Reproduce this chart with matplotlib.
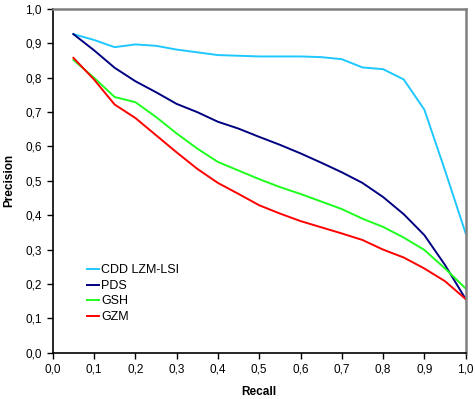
import matplotlib
matplotlib.use("Agg")
import matplotlib.pyplot as plt
import numpy as np

plt.rcParams['font.family'] = ['Liberation Sans', 'DejaVu Sans']

recall = [0.05, 0.10, 0.15, 0.20, 0.25, 0.30, 0.35, 0.40, 0.45, 0.50,
          0.55, 0.60, 0.65, 0.70, 0.75, 0.80, 0.85, 0.90, 0.95, 1.00]

cdd = [0.927, 0.910, 0.889, 0.897, 0.893, 0.882, 0.874, 0.866, 0.864, 0.862,
       0.862, 0.862, 0.860, 0.854, 0.830, 0.825, 0.795, 0.707, 0.530, 0.347]
pds = [0.927, 0.880, 0.829, 0.790, 0.758, 0.724, 0.700, 0.672, 0.652, 0.628,
       0.605, 0.580, 0.553, 0.525, 0.494, 0.453, 0.403, 0.342, 0.255, 0.156]
gsh = [0.852, 0.800, 0.744, 0.729, 0.686, 0.638, 0.594, 0.555, 0.530, 0.505,
       0.482, 0.462, 0.440, 0.418, 0.390, 0.366, 0.335, 0.299, 0.245, 0.187]
gzm = [0.858, 0.795, 0.722, 0.683, 0.633, 0.583, 0.535, 0.494, 0.462, 0.429,
       0.405, 0.383, 0.365, 0.347, 0.328, 0.300, 0.277, 0.245, 0.208, 0.156]

labels = ['CDD LZM-LSI', 'PDS', 'GSH', 'GZM']
colors = ['#1ec8ff', '#000080', '#1eff1e', '#ff0000']

fig = plt.figure(figsize=(4.75, 3.99), dpi=100)
ax = fig.add_axes([0.111, 0.116, 0.8694, 0.8614])

for y, lab, c in zip([cdd, pds, gsh, gzm], labels, colors):
    ax.plot(recall, y, color=c, lw=1.4, label=lab)

ax.set_xlim(0, 1)
ax.set_ylim(0, 1)
ticks = np.round(np.arange(0, 1.01, 0.1), 1)
ax.set_xticks(ticks)
ax.set_yticks(ticks)
ax.set_xticklabels([f"{t:.1f}".replace('.', ',') for t in ticks])
ax.set_yticklabels([f"{t:.1f}".replace('.', ',') for t in ticks])
ax.tick_params(direction='out', length=4, width=1, labelsize=8.5, colors='black', pad=4)

for s in ['left', 'bottom']:
    ax.spines[s].set_color('black')
    ax.spines[s].set_linewidth(1.2)
for s in ['top', 'right']:
    ax.spines[s].set_color('#808080')
    ax.spines[s].set_linewidth(1.8)

ax.set_xlabel('Recall', fontsize=8.5, fontweight='bold', labelpad=7)
ax.set_ylabel('Precision', fontsize=8.5, fontweight='bold', labelpad=7)

ax.legend(loc='lower left', bbox_to_anchor=(0.072, 0.072), frameon=False, fontsize=9,
          handlelength=0.9, handletextpad=0.2, labelspacing=0.28, borderaxespad=0)

fig.savefig('out.png', dpi=100)
